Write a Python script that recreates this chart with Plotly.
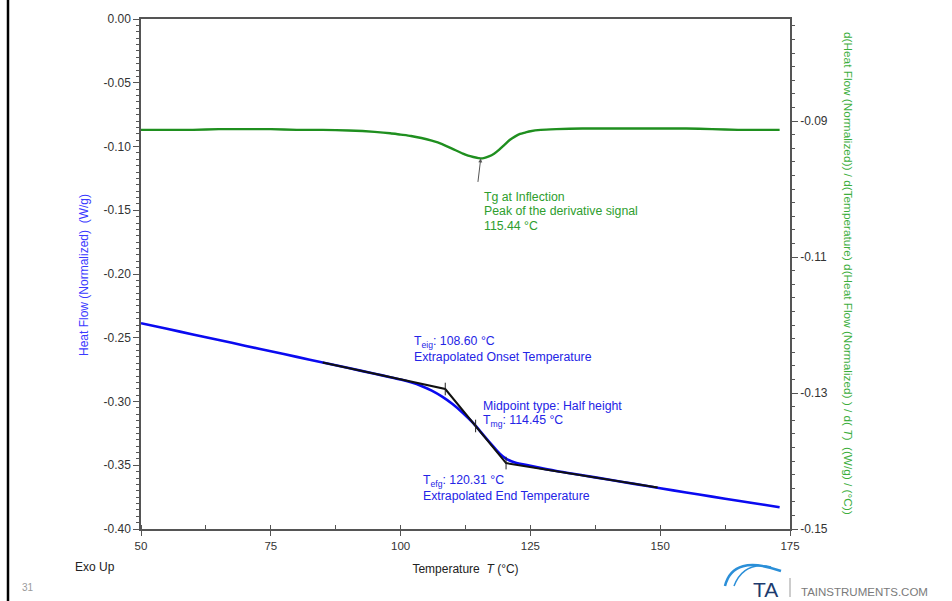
import plotly.graph_objects as go

# ---- Heat flow (W/g) vs temperature (°C) ----
temp_hf = [50, 55, 60, 65, 70, 75, 80, 85, 90, 95, 98, 100, 102, 104, 106, 108,
           110, 112, 114, 116, 118, 119, 120, 121, 122, 123, 125, 130, 135, 140,
           145, 150, 155, 160, 165, 170, 173]
heat_flow = [-0.2386, -0.2430, -0.2474, -0.2518, -0.2562, -0.2606, -0.2650, -0.2694,
             -0.2738, -0.2782, -0.2809, -0.2828, -0.2850, -0.2878, -0.2915, -0.2962,
             -0.3020, -0.3090, -0.3170, -0.3265, -0.3360, -0.3405, -0.3440, -0.3463,
             -0.3478, -0.3488, -0.3505, -0.3545, -0.3578, -0.3612, -0.3646, -0.3680,
             -0.3714, -0.3746, -0.3778, -0.3810, -0.3829]

# ---- Derivative signal ((W/g)/°C) ----
temp_deriv = [50, 55, 60, 65, 70, 75, 80, 85, 90, 95, 98, 100, 102, 104, 106, 108,
              110, 112, 113, 114, 115, 115.44, 116, 117, 118, 119, 120, 121, 122, 123,
              124, 125, 127, 130, 135, 140, 145, 150, 155, 160, 165, 170, 173]
deriv = [-0.0913, -0.0913, -0.0913, -0.0912, -0.0912, -0.0912, -0.0913, -0.0913,
         -0.0914, -0.0916, -0.0918, -0.0920, -0.0922, -0.0925, -0.0929, -0.0934,
         -0.0941, -0.0948, -0.0951, -0.0953, -0.09545, -0.0955, -0.09545, -0.0952,
         -0.0948, -0.0942, -0.0935, -0.0928, -0.0923, -0.0919, -0.0917, -0.0915,
         -0.0913, -0.0912, -0.0911, -0.0911, -0.0911, -0.0911, -0.0911, -0.0912,
         -0.0913, -0.0913, -0.0913]

# ---- Glass transition tangent construction ----
tangent_T = [85, 108.60, 120.31, 149.5]
tangent_hf = [-0.2694, -0.2902, -0.3483, -0.3675]
tg_points_T = [108.60, 114.45, 120.31]
tg_points_hf = [-0.2902, -0.3192, -0.3483]
tg_inflection_T = 115.44
tg_inflection_d = -0.0955

# ---- Axis ticks ----
x_ticks = [50, 75, 100, 125, 150, 175]
y_ticks = [0.00, -0.05, -0.10, -0.15, -0.20, -0.25, -0.30, -0.35, -0.40]
y_labels = ["0.00", "-0.05", "-0.10", "-0.15", "-0.20", "-0.25", "-0.30", "-0.35", "-0.40"]
y2_ticks = [-0.09, -0.11, -0.13, -0.15]
y2_labels = ["-0.09", "-0.11", "-0.13", "-0.15"]

FONT = "Liberation Sans, Arial, sans-serif"
W, H = 952, 601
L, R, T, B = 141, 162, 19, 72
PW, PH = W - L - R, H - T - B


def px(x):
    return (x - L) / PW


def py(y):
    return (H - B - y) / PH


BLUE = "#0a0af0"
BLUE_TXT = "#2424e6"
GREEN = "#1f8f1f"
GREEN_TXT = "#2e9e2e"
AXIS = "#555555"
TICKTXT = "#333333"

fig = go.Figure()

fig.add_trace(go.Scatter(x=temp_hf, y=heat_flow, mode="lines",
                         line=dict(color=BLUE, width=2.6, shape="spline", smoothing=0.6),
                         showlegend=False, hoverinfo="skip"))
fig.add_trace(go.Scatter(x=tangent_T, y=tangent_hf, mode="lines",
                         line=dict(color="#111111", width=2),
                         showlegend=False, hoverinfo="skip"))
fig.add_trace(go.Scatter(x=tg_points_T, y=tg_points_hf, mode="markers",
                         marker=dict(symbol="line-ns", size=9,
                                     line=dict(color="#222222", width=1)),
                         showlegend=False, hoverinfo="skip"))
fig.add_trace(go.Scatter(x=temp_deriv, y=deriv, mode="lines", yaxis="y2",
                         line=dict(color=GREEN, width=2.4, shape="spline", smoothing=0.6),
                         showlegend=False, hoverinfo="skip"))

ann = []


def text_at(x, y, text, size, color, xanchor="left", angle=0):
    ann.append(dict(x=px(x), y=py(y), xref="paper", yref="paper",
                    xanchor=xanchor, yanchor="middle", showarrow=False,
                    textangle=angle, text=text,
                    font=dict(family=FONT, size=size, color=color)))


def text_block(x, y_first, lines, size, color, spacing=14.5):
    for i, line in enumerate(lines):
        text_at(x, y_first + i * spacing, line, size, color)


# derivative peak arrow and label
ann.append(dict(x=tg_inflection_T, y=tg_inflection_d, xref="x", yref="y2",
                text="", showarrow=True, ax=-3, ay=25, arrowhead=2, arrowsize=0.8,
                arrowwidth=1, arrowcolor="#555555"))
text_block(482, 196.5, ["Tg at Inflection", "Peak of the derivative signal", "115.44 °C"],
           12.3, GREEN_TXT)
# tangent construction labels
text_block(412, 342, ["T<sub>eig</sub>: 108.60 °C", "Extrapolated Onset Temperature"],
           12.3, BLUE_TXT)
text_block(481, 406, ["Midpoint type: Half height", "T<sub>mg</sub>: 114.45 °C"],
           12.3, BLUE_TXT)
text_block(421, 481, ["T<sub>efg</sub>: 120.31 °C", "Extrapolated End Temperature"],
           12.3, BLUE_TXT)
# axis titles
text_at(84, 275, "Heat Flow (Normalized)  (W/g)", 12, "#3a3aff", xanchor="center", angle=-90)
text_at(848, 273,
        "d(Heat Flow (Normalized)) / d(Temperature) d(Heat Flow (Normalized) ) / d( <i>T</i>)  ((W/g) / (°C))",
        11.8, "#3cae3c", xanchor="center", angle=90)
text_at(73, 567, "Exo Up", 12, "#222222")
text_at(20, 587, "31", 10, "#9a9a9a")
# footer branding
text_at(765, 589, "TA", 21, "#1d3b6e", xanchor="center")
text_at(799, 592, "TAINSTRUMENTS.COM", 11.5, "#7a7a7a")

shapes = [
    dict(type="line", xref="paper", yref="paper", x0=px(8), x1=px(8), y0=py(0), y1=py(601),
         line=dict(color="#000000", width=2.5)),
    dict(type="line", xref="paper", yref="paper", x0=px(790), x1=px(790), y0=py(578), y1=py(597),
         line=dict(color="#9a9a9a", width=1)),
    dict(type="path", xref="paper", yref="paper",
         path=f"M {px(725)},{py(586)} Q {px(733)},{py(554)} {px(781)},{py(571)}",
         line=dict(color="#2b8fd8", width=2.5)),
    dict(type="path", xref="paper", yref="paper",
         path=f"M {px(734)},{py(586)} Q {px(744)},{py(561)} {px(771)},{py(567)}",
         line=dict(color="#2b8fd8", width=1.5)),
]

fig.update_layout(
    width=W, height=H,
    margin=dict(l=L, r=R, t=T, b=B),
    paper_bgcolor="white", plot_bgcolor="white",
    font=dict(family=FONT, size=12, color=TICKTXT),
    showlegend=False,
    xaxis=dict(range=[50, 175], tickvals=x_ticks, ticks="outside", ticklen=5,
               tickcolor=AXIS, tickfont=dict(size=11.5, color=TICKTXT),
               minor=dict(dtick=12.5, tick0=50, ticks="inside", ticklen=4, tickcolor=AXIS),
               showline=True, linecolor=AXIS, linewidth=1.5, mirror=True,
               showgrid=False, zeroline=False,
               title=dict(text="Temperature  <i>T</i> (°C)", standoff=14,
                          font=dict(size=12, color="#222222"))),
    yaxis=dict(range=[-0.40, 0.00], tickvals=y_ticks, ticktext=y_labels,
               ticks="outside", ticklen=6, tickcolor=AXIS,
               tickfont=dict(size=12, color=TICKTXT),
               minor=dict(dtick=0.005, tick0=0, ticks="outside", ticklen=3, tickcolor=AXIS),
               showline=True, linecolor=AXIS, linewidth=1.5,
               showgrid=False, zeroline=False),
    yaxis2=dict(range=[-0.15, -0.075], overlaying="y", side="right",
                tickvals=y2_ticks, ticktext=y2_labels, ticks="outside", ticklen=6,
                tickcolor=AXIS, tickfont=dict(size=12, color=TICKTXT),
                minor=dict(dtick=0.002, tick0=-0.15, ticks="outside", ticklen=3, tickcolor=AXIS),
                showline=True, linecolor=AXIS, linewidth=1.5,
                showgrid=False, zeroline=False),
    annotations=ann,
    shapes=shapes,
)

fig.write_html("out.html")
